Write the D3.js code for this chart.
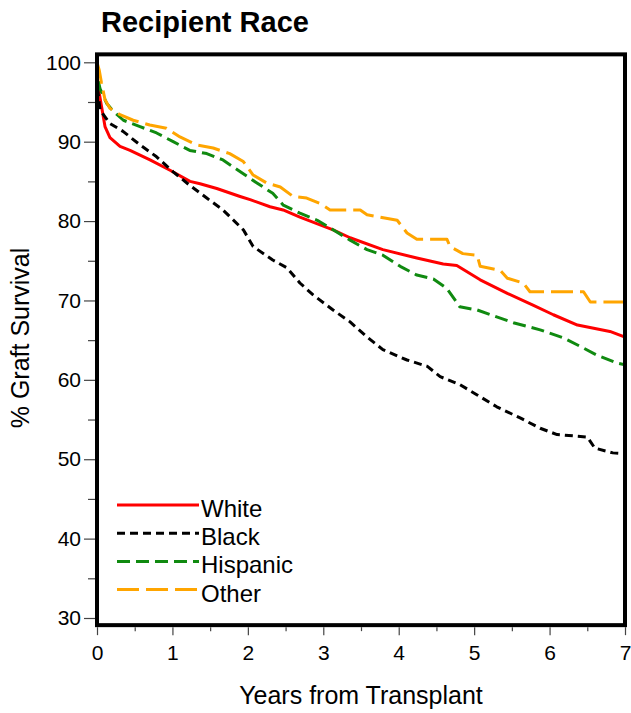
<!DOCTYPE html>
<html>
<head>
<meta charset="utf-8">
<script src="https://cdn.jsdelivr.net/npm/d3@7"></script>
<style>
  body { margin: 0; background: #fff; }
  svg { display: block; font-family: "Liberation Sans", Arial, sans-serif; }
</style>
</head>
<body>
<svg id="chart" width="631" height="713"></svg>
<script>
const title = "Recipient Race";
const xLabel = "Years from Transplant";
const yLabel = "% Graft Survival";
const xTicks = [0, 1, 2, 3, 4, 5, 6, 7];
const xMinorTicks = [0.5, 1.5, 2.5, 3.5, 4.5, 5.5, 6.5];
const yTicks = [30, 40, 50, 60, 70, 80, 90, 100];
const yMinorTicks = [35, 45, 55, 65, 75, 85, 95];
const seriesNames = ["White", "Black", "Hispanic", "Other"];

const white = [[0,100],[0.01,97.5],[0.03,96.1],[0.106,91.9],[0.172,90.5],[0.305,89.4],[0.438,88.9],[0.703,87.7],[0.968,86.4],[1.233,85.0],[1.366,84.7],[1.588,84.1],[1.897,83.1],[2.03,82.7],[2.294,81.8],[2.467,81.4],[2.69,80.5],[3.13,78.9],[3.355,77.9],[3.79,76.4],[4.24,75.35],[4.59,74.6],[4.77,74.4],[5.08,72.6],[5.44,70.9],[5.78,69.4],[6.05,68.2],[6.37,66.9],[6.80,66.1],[7.0,65.4]];
const black = [[0,100],[0.01,96.5],[0.04,94.0],[0.17,92.3],[0.345,91.3],[0.57,89.6],[0.79,88.1],[1.01,86.2],[1.23,84.5],[1.455,82.9],[1.67,81.4],[1.94,78.9],[2.07,76.8],[2.33,75.1],[2.52,74.1],[2.69,72.2],[2.865,70.7],[3.13,68.8],[3.355,67.3],[3.58,65.4],[3.79,63.8],[4.11,62.5],[4.38,61.7],[4.55,60.4],[4.81,59.4],[5.04,58.1],[5.30,56.6],[5.61,55.2],[5.875,53.9],[6.10,53.1],[6.50,52.8],[6.60,51.4],[6.84,50.8],[7.0,50.7]];
const hispanic = [[0,100],[0.01,98.0],[0.04,96.7],[0.13,94.8],[0.22,93.8],[0.35,92.7],[0.57,91.9],[0.79,91.1],[1.01,90.0],[1.23,88.9],[1.455,88.5],[1.67,87.7],[1.90,86.2],[2.12,84.8],[2.33,83.5],[2.47,82.0],[2.69,81.0],[2.92,80.1],[3.13,78.9],[3.355,77.6],[3.58,76.4],[3.79,75.7],[4.02,74.3],[4.24,73.2],[4.46,72.7],[4.64,71.5],[4.81,69.2],[5.04,68.8],[5.52,67.2],[5.875,66.3],[6.18,65.3],[6.41,64.2],[6.63,63.1],[6.90,62.1],[7.0,61.9]];
const other = [[0,100],[0.03,99.0],[0.06,97.4],[0.106,95.3],[0.17,94.2],[0.305,93.4],[0.48,92.7],[0.70,92.1],[0.92,91.7],[1.10,90.6],[1.32,89.6],[1.54,89.2],[1.76,88.5],[1.94,87.5],[2.07,85.8],[2.25,84.8],[2.43,84.3],[2.60,83.1],[2.78,82.9],[2.96,82.2],[3.09,81.4],[3.49,81.4],[3.58,80.8],[3.98,80.1],[4.11,78.5],[4.24,77.7],[4.64,77.7],[4.68,76.8],[4.85,75.9],[5.04,75.7],[5.08,74.3],[5.345,73.8],[5.44,72.8],[5.65,72.2],[5.74,71.1],[6.45,71.1],[6.54,69.8],[7.0,69.8]];

const seriesData = [white, black, hispanic, other];
const colors = ["#ff0000", "#000000", "#108a10", "#ffa500"];
const dashes = ["none", "8,5", "13,6", "22,7"];

const svg = d3.select("#chart");
const x = d3.scaleLinear().domain([0, 7]).range([97, 625]);
const y = d3.scaleLinear().domain([100, 30]).range([62.3, 618]);
const yTop = y(101), yBottom = y(29.1);

// title
svg.append("text").attr("x", 101).attr("y", 32)
  .attr("font-size", 29).attr("font-weight", "bold").text(title);

// clip
svg.append("clipPath").attr("id", "clip").append("rect")
  .attr("x", x(0)).attr("y", yTop).attr("width", x(7) - x(0)).attr("height", yBottom - yTop);

// lines
const line = d3.line().x(d => x(d[0])).y(d => y(d[1]));
const g = svg.append("g").attr("clip-path", "url(#clip)");
seriesData.forEach((s, i) => {
  g.append("path").datum(s).attr("d", line)
    .attr("fill", "none").attr("stroke", colors[i]).attr("stroke-width", 3)
    .attr("stroke-dasharray", dashes[i]).attr("stroke-linejoin", "round");
});

// frame
svg.append("rect").attr("x", x(0)).attr("y", yTop)
  .attr("width", x(7) - x(0)).attr("height", yBottom - yTop)
  .attr("fill", "none").attr("stroke", "#000").attr("stroke-width", 4);

// y axis
const yAx = svg.append("g").attr("transform", `translate(${x(0) - 2},0)`)
  .call(d3.axisLeft(y).tickValues(yTicks).tickSize(11).tickPadding(3));
yAx.select(".domain").remove();
yAx.selectAll("line").attr("stroke", "#444").attr("stroke-width", 1.2);
yAx.selectAll("text").attr("font-size", 21).attr("fill", "#000")
  .attr("font-family", "Liberation Sans, Arial, sans-serif");
const yMin = svg.append("g").attr("transform", `translate(${x(0) - 2},0)`)
  .call(d3.axisLeft(y).tickValues(yMinorTicks).tickSize(7).tickFormat(""));
yMin.select(".domain").remove();
yMin.selectAll("line").attr("stroke", "#444").attr("stroke-width", 1.2);

// x axis
const xAx = svg.append("g").attr("transform", `translate(0,${yBottom + 2})`)
  .call(d3.axisBottom(x).tickValues(xTicks).tickSize(8).tickPadding(10).tickFormat(d3.format("d")));
xAx.select(".domain").remove();
xAx.selectAll("line").attr("stroke", "#444").attr("stroke-width", 1.2);
xAx.selectAll("text").attr("font-size", 21).attr("fill", "#000")
  .attr("font-family", "Liberation Sans, Arial, sans-serif");
const xMin = svg.append("g").attr("transform", `translate(0,${yBottom + 2})`)
  .call(d3.axisBottom(x).tickValues(xMinorTicks).tickSize(4).tickFormat(""));
xMin.select(".domain").remove();
xMin.selectAll("line").attr("stroke", "#444").attr("stroke-width", 1.2);

// axis labels
svg.append("text").attr("x", (x(0) + x(7)) / 2).attr("y", 704)
  .attr("text-anchor", "middle").attr("font-size", 25).text(xLabel);
svg.append("text").attr("transform", `translate(29,338) rotate(-90)`)
  .attr("text-anchor", "middle").attr("font-size", 25).text(yLabel);

// legend
const legY0 = 505, legStep = 28.2;
seriesNames.forEach((name, i) => {
  const ly = legY0 + i * legStep;
  svg.append("line").attr("x1", 117).attr("x2", 199).attr("y1", ly).attr("y2", ly)
    .attr("stroke", colors[i]).attr("stroke-width", 3).attr("stroke-dasharray", dashes[i]);
  svg.append("text").attr("x", 201).attr("y", ly + 12).attr("font-size", 24).text(name);
});
</script>
</body>
</html>
